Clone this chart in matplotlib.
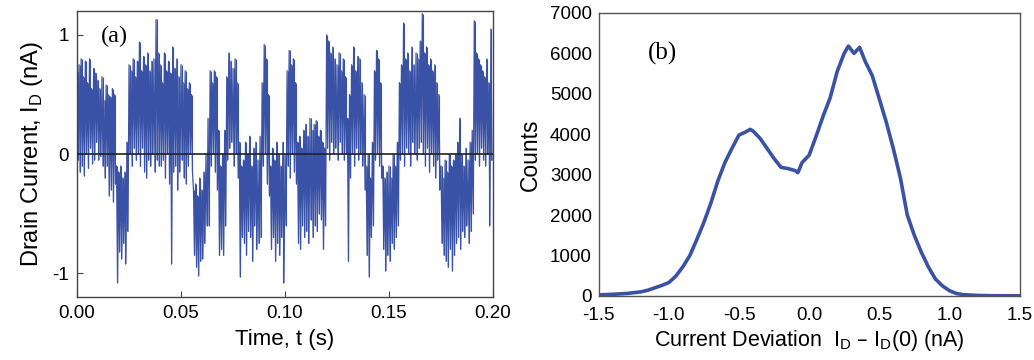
import numpy as np
import matplotlib
matplotlib.use("Agg")
import matplotlib.pyplot as plt

# ---- Panel (a): per-1 ms bin upper / lower excursions of drain current (nA)
bin_width = 0.001
trace_hi = [0.7, 0.75, 0.8, 0.65, 0.78, 0.6, 0.8, 0.55, 0.72, 0.68, 0.62, 0.55, 0.65, 0.45, 0.58, 0.5, 0.48, 0.55, 0.5,
            -0.1, -0.15, -0.1, -0.2, -0.15, 0.1,
            0.75, 0.7, 0.8, 0.65, 0.78, 0.94, 0.7, 0.82, 0.75, 0.85, 0.7, 0.78, 0.8, 1.13, 0.85,
            0.75, 0.6, 0.85, 0.7, 0.78, 0.68, 0.9, 0.72, 0.8, 0.65, 0.75, 0.6, 0.7, 0.55, 0.6, 0.5,
            -0.3, -0.25, -0.35, -0.2, -0.3, -0.15, 0.0,
            0.3, 0.7, 0.6, 0.7, 0.65, 0.2,
            -0.1, 0.0, 0.2,
            0.65, 0.85, 0.78, 0.72, 0.8, 0.6,
            0.1, -0.1,
            -0.05, 0.1, 0.0, 0.15, -0.1, 0.05, 0.1, -0.05, 0.15,
            0.6, 0.92, 0.8, 0.5,
            -0.1, 0.05, -0.05, 0.1, 0.0, -0.1, 0.1, 0.0,
            0.7, 0.87, 0.75, 0.8, 0.6,
            0.1, 0.15, 0.05, 0.2, 0.25, 0.15, 0.3, 0.2, 0.25, 0.28, 0.15, 0.2, 0.1, 0.05,
            1.0, 0.95, 0.85, 0.9, 0.8, 0.75, 0.85, 0.7, 0.8, 0.65,
            0.3, 0.5,
            0.75, 0.9, 0.7, 0.82, 0.8, 0.6, 0.5,
            -0.1, 0.0, -0.2, 0.1,
            0.7, 0.87, 0.8, 0.6,
            -0.1, -0.2, -0.15, -0.1, -0.2, 0.0, -0.1, 0.1,
            0.6, 0.75, 1.1, 0.8, 0.85, 0.7, 0.9, 0.75, 0.85, 0.8, 0.95, 1.18, 0.85, 0.9, 0.75, 0.8, 0.7, 0.75, 0.6, 0.5,
            -0.1, -0.2, -0.05, -0.15, 0.0, -0.1, -0.05, 0.0, 0.1, 0.3, 0.0, -0.1, 0.05, -0.05, 0.1, 0.2,
            1.12, 0.85, 0.8, 0.75, 0.7, 0.65, 0.8, 0.6, 1.05]
trace_lo = [-0.05, -0.15, -0.1, -0.18, 0.0, -0.12, 0.05, -0.08, -0.05, 0.1, -0.05, -0.02, -0.1, -0.2, -0.1, -0.35, -0.3, -0.4, -0.25,
            -1.08, -0.82, -0.88, -0.75, -0.92, -0.65,
            0.0, -0.1, 0.05, -0.05, 0.0, -0.1, 0.05, -0.15, -0.2, -0.05, -0.1, 0.0, -0.15, -0.05, -0.1,
            -0.1, -0.05, -0.2, 0.0, -0.25, -0.92, -0.15, -0.1, -0.3, -0.15, -0.05, -0.2, -0.25, -0.1, 0.0, -0.15,
            -0.85, -0.95, -1.02, -0.9, -0.88, -0.75, -0.6,
            -0.6, -0.1, 0.0, -0.15, -0.3, -0.85,
            -0.8, -0.85, -0.6,
            -0.05, 0.05, 0.1, -0.1, 0.0, -0.2,
            -1.03, -0.7,
            -0.75, -0.85, -0.65, -0.7, -0.9, -0.6, -0.8, -0.75, -0.7,
            -0.1, 0.0, -0.25, -0.35,
            -0.8, -0.7, -0.9, -0.75, -0.85, -0.7, -1.08, -0.6,
            -0.1, -0.2, 0.0, -0.15, -0.25,
            -0.75, -0.8, -0.6, -0.7, -0.65, -0.75, -0.55, -0.7, -0.6, -0.65, -0.5, -0.55, -0.8, -0.6,
            0.05, -0.05, 0.1, 0.0, 0.05, -0.05, 0.1, 0.0, -0.05, 0.0,
            -0.9, -0.2,
            0.0, -0.1, 0.05, -0.05, 0.0, -0.1, -0.3,
            -0.85, -1.03, -0.7, -0.6,
            -0.05, 0.0, -0.1, -0.2,
            -0.8, -0.98, -0.85, -0.9, -0.75, -0.8, -0.7, -0.6,
            -0.05, 0.0, -0.1, 0.05, 0.0, -0.1, 0.1, 0.0, -0.05, 0.05, 0.1, 0.0, -0.1, 0.05, -0.15, 0.0, -0.1, -0.2, -0.05, -0.3,
            -0.75, -0.85, -0.9, -0.95, -0.8, -0.98, -0.85, -0.75, -0.7, -0.8, -0.65, -0.7, -0.6, -0.75, -0.65, -0.5,
            -0.05, 0.0, -0.1, 0.05, -0.05, -0.1, 0.0, -0.6, -0.05]

# ---- Panel (b): histogram of current deviation
dev_x = [-1.5, -1.4, -1.3, -1.2, -1.15, -1.1, -1.05, -1.0, -0.95, -0.9, -0.85, -0.8, -0.75, -0.7,
         -0.65, -0.6, -0.55, -0.5, -0.45, -0.42, -0.4, -0.35, -0.3, -0.25, -0.2, -0.15, -0.1, -0.08,
         -0.05, 0.0, 0.05, 0.1, 0.15, 0.2, 0.25, 0.28, 0.32, 0.36, 0.4, 0.45, 0.5, 0.55, 0.6, 0.65,
         0.7, 0.75, 0.8, 0.85, 0.9, 0.95, 1.0, 1.05, 1.1, 1.2, 1.3, 1.4, 1.5]
counts = [25, 40, 60, 100, 140, 200, 260, 330, 490, 720, 1000, 1400, 1820, 2300,
          2850, 3300, 3650, 3980, 4060, 4120, 4080, 3900, 3650, 3400, 3180, 3150, 3100, 3050,
          3300, 3480, 3950, 4450, 4900, 5550, 6000, 6180, 6000, 6150, 5800, 5450, 4880, 4300, 3650, 2930,
          2000, 1500, 1080, 720, 420, 250, 130, 60, 30, 12, 5, 3, 2]

blue = '#3a52a6'
plt.rcParams['font.family'] = ['Liberation Sans', 'DejaVu Sans']

fig = plt.figure(figsize=(10.34, 3.6), dpi=100)
ax1 = fig.add_axes([0.0745, 0.175, 0.4023, 0.794])
ax2 = fig.add_axes([0.579, 0.178, 0.407, 0.786])

# Panel (a)
n = len(trace_hi)
t = []
y = []
for i in range(n):
    t.append(i * bin_width)
    y.append(trace_hi[i])
    t.append((i + 0.5) * bin_width)
    y.append(trace_lo[i])
t_mid = [(i + 0.25) * bin_width for i in range(n)]
ax1.vlines(t_mid, trace_lo, trace_hi, color=blue, lw=0.8)
ax1.plot(t, y, color=blue, lw=0.9)
ax1.axhline(0, color='#222222', lw=1.2, zorder=5)
ax1.set_xlim(0, 0.2)
ax1.set_ylim(-1.2, 1.2)
ax1.set_xticks([0.0, 0.05, 0.10, 0.15, 0.20])
ax1.set_xticklabels(['0.00', '0.05', '0.10', '0.15', '0.20'])
ax1.set_yticks([-1, 0, 1])
ax1.set_yticklabels(['-1', '0', '1'])
ax1.tick_params(direction='in', length=4, labelsize=13.5, color='#444444', pad=6)
ax1.set_xlabel('Time, t (s)', fontsize=16, labelpad=5)
ax1.set_ylabel('Drain Current, I$_\\mathregular{D}$ (nA)', fontsize=17, labelpad=5)
ax1.text(0.0115, 0.99, '(a)', fontsize=17.5, family='Liberation Serif', va='center', ha='left')
for s in ax1.spines.values():
    s.set_color('#444444')
    s.set_linewidth(1.0)

# Panel (b)
ax2.plot(dev_x, counts, color=blue, lw=2.6)
ax2.set_xlim(-1.5, 1.5)
ax2.set_ylim(0, 7000)
ax2.set_xticks([-1.5, -1.0, -0.5, 0.0, 0.5, 1.0, 1.5])
ax2.set_xticklabels(['-1.5', '-1.0', '-0.5', '0.0', '0.5', '1.0', '1.5'])
ax2.set_yticks(range(0, 7001, 1000))
ax2.tick_params(axis='both', direction='in', length=0, labelsize=13.5)
ax2.tick_params(axis='x', pad=8)
ax2.tick_params(axis='y', pad=5)
ax2.set_ylabel('Counts', fontsize=16.5, labelpad=6)
ax2.set_xlabel('Current Deviation  I$_\\mathregular{D}$ \u2013 I$_\\mathregular{D}$(0) (nA)', fontsize=15.5, labelpad=3)
ax2.text(-1.15, 6000, '(b)', fontsize=18, family='Liberation Serif', va='center', ha='left')
for s in ax2.spines.values():
    s.set_color('#555555')
    s.set_linewidth(1.0)

fig.savefig('out.png', dpi=100)
